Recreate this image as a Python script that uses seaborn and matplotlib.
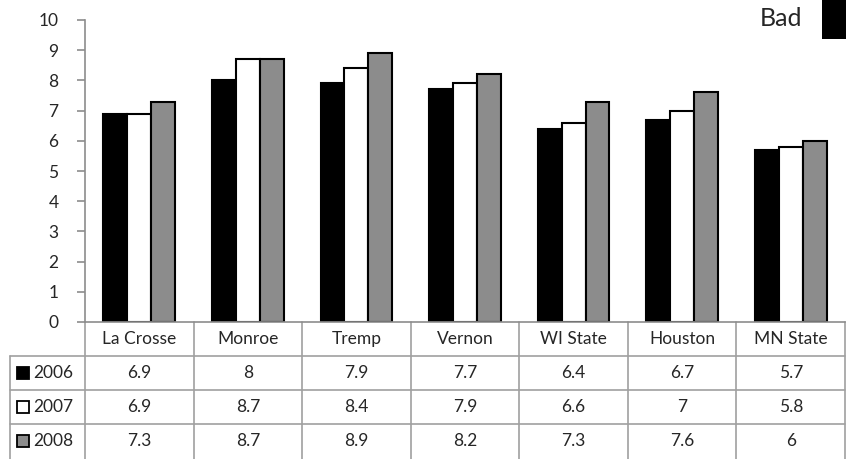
import matplotlib
matplotlib.use("Agg")
import matplotlib.pyplot as plt
import matplotlib.transforms as mtransforms
from matplotlib.patches import Rectangle
import seaborn as sns
import pandas as pd

categories = ["La Crosse", "Monroe", "Tremp", "Vernon", "WI State", "Houston", "MN State"]
years = ["2006", "2007", "2008"]
v2006 = [6.9, 8, 7.9, 7.7, 6.4, 6.7, 5.7]
v2007 = [6.9, 8.7, 8.4, 7.9, 6.6, 7, 5.8]
v2008 = [7.3, 8.7, 8.9, 8.2, 7.3, 7.6, 6]
yticks = list(range(0, 11))
colors = ["#000000", "#ffffff", "#8c8c8c"]

sns.set_style("white")
plt.rcParams['font.family'] = ['Lato', 'DejaVu Sans']

rows = []
for yr, vals in zip(years, [v2006, v2007, v2008]):
    for c, v in zip(categories, vals):
        rows.append({"cat": c, "year": yr, "val": v})
df = pd.DataFrame(rows)

FS = 12.5
W, H = 854, 459
fig = plt.figure(figsize=(W / 100, H / 100), dpi=100)
ax_l, ax_r, ax_t, ax_b = 85, 845, 20, 322
ax = fig.add_axes([ax_l / W, (H - ax_b) / H, (ax_r - ax_l) / W, (ax_b - ax_t) / H])

sns.barplot(data=df, x="cat", y="val", hue="year", palette=colors, width=0.66,
            edgecolor="black", linewidth=1.5, ax=ax, legend=False, saturation=1)

ax.set_xlim(-0.5, len(categories) - 0.5)
ax.set_ylim(0, 10)
ax.set_yticks(yticks)
ax.set_yticklabels([str(t) for t in yticks], fontsize=FS)
ax.set_xticks([])
ax.set_xlabel("")
ax.set_ylabel("")
ax.tick_params(axis="y", which="both", left=True, length=6, width=1.2, color="#8c8c8c", pad=13)
for s in ["top", "right"]:
    ax.spines[s].set_visible(False)
for s in ["left", "bottom"]:
    ax.spines[s].set_color("#8c8c8c")
    ax.spines[s].set_linewidth(1.2)

# data table
trans = mtransforms.blended_transform_factory(ax.transData, ax.transAxes)
ax_h = ax_b - ax_t
row_h = 34 / ax_h
px_per_unit = (ax_r - ax_l) / len(categories)
hdr_left = -0.5 - (ax_l - 10) / px_per_unit
gray = "#a0a0a0"
nrows = 4
bottom = -nrows * row_h - 0.01

for r in range(1, nrows):
    ax.plot([hdr_left, len(categories) - 0.5], [-r * row_h, -r * row_h], color=gray,
            lw=1.2, transform=trans, clip_on=False)
for k in range(len(categories) + 1):
    ax.plot([-0.5 + k, -0.5 + k], [0, bottom], color=gray, lw=1.2, transform=trans, clip_on=False)
ax.plot([hdr_left, hdr_left], [-row_h, bottom], color=gray, lw=1.2, transform=trans, clip_on=False)

for i, c in enumerate(categories):
    ax.text(i, -0.5 * row_h, c, ha="center", va="center", fontsize=FS, transform=trans)

for r, (yr, vals) in enumerate(zip(years, [v2006, v2007, v2008])):
    yc = -(r + 1.5) * row_h
    for i, v in enumerate(vals):
        ax.text(i, yc, f"{v:g}", ha="center", va="center", fontsize=FS, transform=trans)
    sq_w = 12 / px_per_unit
    sq_h = 12 / ax_h
    x0 = hdr_left + 7 / px_per_unit
    ax.add_patch(Rectangle((x0, yc - sq_h / 2), sq_w, sq_h, facecolor=colors[r],
                           edgecolor="black", lw=1.3, transform=trans, clip_on=False))
    ax.text(x0 + sq_w + 4 / px_per_unit, yc, yr, ha="left", va="center", fontsize=FS,
            transform=trans)

# "Bad" label
fig.text(802 / W, 1 - 18 / H, "Bad", ha="right", va="center", fontsize=18)
fig.patches.append(Rectangle((822 / W, 1 - 39 / H), 24 / W, 39 / H, facecolor="black",
                             edgecolor="none", transform=fig.transFigure, figure=fig))

fig.savefig("out.png", dpi=100)
